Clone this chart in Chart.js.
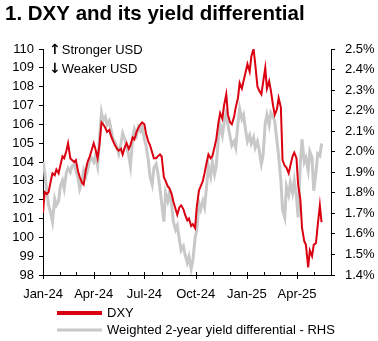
<!DOCTYPE html>
<html>
<head>
<meta charset="utf-8">
<script src="https://cdn.jsdelivr.net/npm/chart.js@4.4.1/dist/chart.umd.min.js"></script>
<style>
  html, body { margin: 0; padding: 0; background: #fff; }
</style>
</head>
<body>
<canvas id="dxy-chart" width="378" height="341"></canvas>
<script>
// twice-weekly observations (Mon / Thu), one row per month
const obsDates = [
  '2024-01-01', '2024-01-04', '2024-01-08', '2024-01-11', '2024-01-15', '2024-01-18', '2024-01-22', '2024-01-25', '2024-01-29',
  '2024-02-01', '2024-02-05', '2024-02-08', '2024-02-12', '2024-02-15', '2024-02-19', '2024-02-22', '2024-02-26', '2024-02-29',
  '2024-03-04', '2024-03-07', '2024-03-11', '2024-03-14', '2024-03-18', '2024-03-21', '2024-03-25', '2024-03-28',
  '2024-04-01', '2024-04-04', '2024-04-08', '2024-04-11', '2024-04-15', '2024-04-18', '2024-04-22', '2024-04-25', '2024-04-29',
  '2024-05-02', '2024-05-06', '2024-05-09', '2024-05-13', '2024-05-16', '2024-05-20', '2024-05-23', '2024-05-27', '2024-05-30',
  '2024-06-03', '2024-06-06', '2024-06-10', '2024-06-13', '2024-06-17', '2024-06-20', '2024-06-24', '2024-06-27',
  '2024-07-01', '2024-07-04', '2024-07-08', '2024-07-11', '2024-07-15', '2024-07-18', '2024-07-22', '2024-07-25', '2024-07-29',
  '2024-08-01', '2024-08-05', '2024-08-08', '2024-08-12', '2024-08-15', '2024-08-19', '2024-08-22', '2024-08-26', '2024-08-29',
  '2024-09-02', '2024-09-05', '2024-09-09', '2024-09-12', '2024-09-16', '2024-09-19', '2024-09-23', '2024-09-26', '2024-09-30',
  '2024-10-03', '2024-10-07', '2024-10-10', '2024-10-14', '2024-10-17', '2024-10-21', '2024-10-24', '2024-10-28', '2024-10-31',
  '2024-11-04', '2024-11-07', '2024-11-11', '2024-11-14', '2024-11-18', '2024-11-21', '2024-11-25', '2024-11-28',
  '2024-12-02', '2024-12-05', '2024-12-09', '2024-12-12', '2024-12-16', '2024-12-19', '2024-12-23', '2024-12-26', '2024-12-30',
  '2025-01-02', '2025-01-06', '2025-01-09', '2025-01-13', '2025-01-16', '2025-01-20', '2025-01-23', '2025-01-27', '2025-01-30',
  '2025-02-03', '2025-02-06', '2025-02-10', '2025-02-13', '2025-02-17', '2025-02-20', '2025-02-24', '2025-02-27',
  '2025-03-03', '2025-03-06', '2025-03-10', '2025-03-13', '2025-03-17', '2025-03-20', '2025-03-24', '2025-03-27', '2025-03-31',
  '2025-04-03', '2025-04-07', '2025-04-10', '2025-04-14', '2025-04-17', '2025-04-21', '2025-04-24', '2025-04-28',
  '2025-05-01', '2025-05-05', '2025-05-08', '2025-05-12', '2025-05-15'
];

// DXY index level (LHS)
const dxyValues = [
  101.3, 102.4, 102.3, 102.4, 103.0, 103.4, 103.3, 103.6, 103.4,
  103.8, 104.3, 104.2, 104.6, 105.0, 104.2, 104.1, 104.0, 104.1,
  103.5, 103.2, 102.9, 102.8, 103.6, 104.0, 104.3, 104.6,
  105.0, 104.7, 104.2, 104.8, 106.1, 106.0, 105.8, 105.6, 105.7,
  105.4, 105.1, 104.9, 104.7, 104.6, 104.7, 104.4, 104.8, 105.0,
  104.7, 104.9, 105.3, 105.2, 105.6, 105.8, 106.0, 106.1,
  106.0, 105.5, 105.1, 104.9, 104.5, 104.2, 104.2, 104.3, 104.4,
  104.3, 103.2, 103.0, 102.7, 102.6, 102.3, 101.9, 101.5, 101.2,
  101.6, 101.7, 101.5, 101.2, 100.9, 101.0, 100.6, 100.7, 100.5,
  101.6, 102.5, 102.7, 103.0, 103.4, 104.0, 104.4, 104.2, 104.3,
  104.8, 105.2, 106.1, 106.6, 106.3, 107.0, 107.6, 106.5,
  106.1, 106.0, 106.4, 106.9, 107.4, 108.2, 107.9, 108.3, 108.8,
  109.2, 108.8, 109.6, 110.0, 109.2, 108.0, 107.8, 107.6, 108.2,
  109.0, 107.9, 108.3, 107.8, 107.0, 106.5, 106.8, 107.4,
  106.9, 104.1, 103.8, 103.7, 103.4, 103.8, 104.3, 104.5, 104.2,
  102.8, 102.0, 100.5, 99.8, 99.6, 98.4, 99.3, 99.0,
  99.6, 99.7, 100.6, 101.7, 100.8
];

// weighted 2-year yield differential, % (RHS)
const spreadValues = [
  1.95, 1.90, 1.80, 1.74, 1.70, 1.66, 1.77, 1.74, 1.76,
  1.83, 1.86, 1.82, 1.90, 1.92, 1.90, 1.93, 1.94, 1.91,
  1.87, 1.82, 1.86, 1.91, 1.88, 1.91, 1.96, 1.97,
  1.95, 1.98, 1.93, 2.05, 2.19, 2.15, 2.17, 2.13, 2.15,
  2.11, 2.06, 2.05, 2.02, 1.99, 2.04, 2.09, 2.06, 2.03,
  1.98, 1.93, 2.07, 2.11, 2.08, 2.12, 2.10, 2.12,
  2.06, 2.03, 1.96, 1.88, 1.84, 1.92, 1.94, 1.90, 1.82,
  1.75, 1.66, 1.80, 1.76, 1.80, 1.74, 1.66, 1.62, 1.64,
  1.57, 1.52, 1.54, 1.50, 1.46, 1.49, 1.43, 1.47, 1.58,
  1.62, 1.75, 1.72, 1.76, 1.73, 1.84, 1.93, 1.88, 1.95,
  1.89, 1.93, 2.07, 2.13, 2.08, 2.14, 2.19, 2.13,
  2.07, 2.03, 2.05, 2.02, 2.14, 2.21, 2.16, 2.18, 2.10,
  2.05, 2.08, 2.04, 2.07, 2.02, 2.05, 2.01, 1.94, 1.98,
  2.14, 2.18, 2.13, 2.19, 2.17, 2.15, 2.05, 1.98,
  1.86, 1.72, 1.68, 1.83, 1.79, 1.85, 1.80, 1.86, 1.78,
  1.68, 1.95, 2.06, 1.95, 1.97, 1.91, 2.00, 1.97,
  1.81, 1.90, 1.99, 1.98, 2.04
];

// month starts on the x axis, labelled every quarter
const monthStarts = [
  '2024-01-01', '2024-02-01', '2024-03-01', '2024-04-01', '2024-05-01', '2024-06-01',
  '2024-07-01', '2024-08-01', '2024-09-01', '2024-10-01', '2024-11-01', '2024-12-01',
  '2025-01-01', '2025-02-01', '2025-03-01', '2025-04-01', '2025-05-01', '2025-06-01'
];
const quarterLabels = {
  '2024-01-01': 'Jan-24', '2024-04-01': 'Apr-24', '2024-07-01': 'Jul-24',
  '2024-10-01': 'Oct-24', '2025-01-01': 'Jan-25', '2025-04-01': 'Apr-25'
};

const seriesNames = ['DXY', 'Weighted 2-year yield differential - RHS'];
const RED = '#DB0011';
const GREY = '#C8C8C8';
const FONT = '"Liberation Sans", Arial, sans-serif';

// days since 1 Jan 2024
const dayOf = s => (Date.parse(s) - Date.parse('2024-01-01')) / 86400000;
const monthDays = monthStarts.map(dayOf);

Chart.defaults.font.family = FONT;
Chart.defaults.font.size = 13;
Chart.defaults.color = '#000';

// title, arrow notes, custom x tick marks and the stacked legend
const decor = {
  id: 'decor',
  afterDraw(chart) {
    const { ctx, chartArea } = chart;
    const xs = chart.scales.x;
    ctx.save();

    ctx.fillStyle = '#000';
    ctx.font = 'bold 20.5px ' + FONT;
    ctx.textBaseline = 'alphabetic';
    ctx.fillText('1. DXY and its yield differential', 5, 20);

    ctx.textBaseline = 'middle';
    [['\u2191', 'Stronger USD', 50], ['\u2193', 'Weaker USD', 69]].forEach(([arrow, text, y]) => {
      ctx.font = 'bold 14px "DejaVu Sans", sans-serif';
      ctx.fillText(arrow, 49, y);
      const w = ctx.measureText(arrow).width;
      ctx.font = '13px ' + FONT;
      ctx.fillText(text, 49 + w + 1, y);
    });

    // monthly ticks sit inside the axis, quarter ticks cross it
    ctx.strokeStyle = '#000';
    ctx.lineWidth = 1;
    monthStarts.forEach((m, i) => {
      const x = Math.round(xs.getPixelForValue(monthDays[i])) + 0.5;
      const major = quarterLabels[m] !== undefined;
      ctx.beginPath();
      ctx.moveTo(x, chartArea.bottom - 3);
      ctx.lineTo(x, chartArea.bottom + (major ? 4 : 0));
      ctx.stroke();
    });

    ctx.font = '13px ' + FONT;
    const rows = [[RED, 313, 4], [GREY, 330, 3]];
    rows.forEach(([color, y, width], i) => {
      ctx.strokeStyle = color;
      ctx.lineWidth = width;
      ctx.beginPath();
      ctx.moveTo(57, y);
      ctx.lineTo(102, y);
      ctx.stroke();
      ctx.fillStyle = '#000';
      ctx.fillText(seriesNames[i], 107, y);
    });
    ctx.restore();
  }
};

new Chart(document.getElementById('dxy-chart'), {
  type: 'line',
  data: {
    datasets: [
      {
        label: seriesNames[0],
        data: obsDates.map((d, i) => ({ x: dayOf(d), y: dxyValues[i] })),
        yAxisID: 'y',
        borderColor: RED,
        borderWidth: 2,
        pointRadius: 0,
        tension: 0
      },
      {
        label: seriesNames[1],
        data: obsDates.map((d, i) => ({ x: dayOf(d), y: spreadValues[i] })),
        yAxisID: 'y2',
        borderColor: GREY,
        borderWidth: 3,
        pointRadius: 0,
        tension: 0
      }
    ]
  },
  options: {
    responsive: false,
    animation: false,
    layout: { padding: { top: 49, left: 0, right: 0, bottom: 30 } },
    plugins: { legend: { display: false }, tooltip: { enabled: false } },
    scales: {
      x: {
        type: 'linear',
        min: 0,
        max: monthDays[monthDays.length - 1],
        afterBuildTicks: scale => {
          scale.ticks = monthDays.map(v => ({ value: v }));
        },
        afterFit: scale => { scale.height = 36; },
        ticks: {
          autoSkip: false,
          maxRotation: 0,
          padding: 12,
          callback: value => quarterLabels[monthStarts[monthDays.indexOf(value)]] || ''
        },
        grid: { display: false, drawTicks: false },
        border: { display: true, color: '#000', width: 1 }
      },
      y: {
        position: 'left',
        min: 98,
        max: 110,
        afterFit: scale => { scale.width = 43; },
        ticks: { stepSize: 1, padding: 5 },
        grid: { drawOnChartArea: false, drawTicks: true, tickLength: 4, color: '#000' },
        border: { color: '#000' }
      },
      y2: {
        position: 'right',
        min: 1.4,
        max: 2.5,
        afterFit: scale => { scale.width = 47; },
        ticks: { stepSize: 0.1, padding: 10, callback: v => v.toFixed(1) + '%' },
        grid: { drawOnChartArea: false, drawTicks: true, tickLength: 4, color: '#000' },
        border: { color: '#000' }
      }
    }
  },
  plugins: [decor]
});
</script>
</body>
</html>
